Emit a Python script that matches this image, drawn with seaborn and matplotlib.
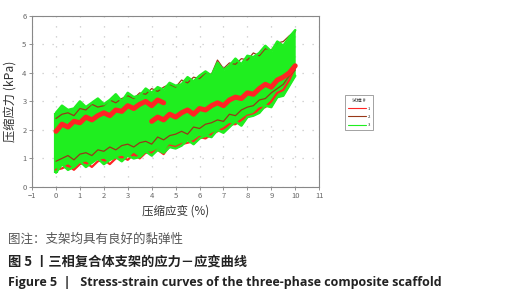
import numpy as np
import pandas as pd
import matplotlib
matplotlib.use("Agg")
import matplotlib.pyplot as plt
import seaborn as sns
from matplotlib.lines import Line2D

# -----------------------------
# Data
# -----------------------------
strain = np.arange(0, 10.001, 0.25)        # full 0-10 % range
strain_a = np.arange(0, 4.501, 0.25)       # part of red unloading that is visible
strain_b = np.arange(4.0, 10.001, 0.25)    # part of red loading that is visible

# sample 3 (green) - outer edges of the band
green_upper = [2.6, 2.85, 2.7, 2.75, 3.0, 2.8, 2.95, 3.1, 2.9, 3.05, 3.25, 3.0, 3.3, 3.15,
               3.2, 3.45, 3.3, 3.5, 3.4, 3.65, 3.55, 3.6, 3.85, 3.7, 3.9, 4.05, 3.9, 4.35,
               4.1, 4.25, 4.5, 4.3, 4.6, 4.55, 4.7, 4.95, 4.75, 5.1, 4.95, 5.25, 5.5]
green_lower = [0.5, 0.8, 0.6, 0.7, 0.9, 0.7, 0.85, 1.0, 0.8, 0.95, 1.05, 0.9, 1.1, 1.0,
               1.05, 1.25, 1.1, 1.3, 1.2, 1.4, 1.35, 1.45, 1.65, 1.5, 1.7, 1.8, 1.75, 2.0,
               1.9, 2.1, 2.3, 2.15, 2.45, 2.5, 2.6, 2.85, 2.8, 3.15, 3.2, 3.55, 3.9]

# sample 1 (red)
red_unload = [1.95, 2.2, 2.1, 2.3, 2.25, 2.45, 2.35, 2.5, 2.6, 2.5, 2.7, 2.65, 2.85, 2.75,
              2.9, 3.0, 2.85, 3.05, 2.95]
red_load = [2.3, 2.45, 2.35, 2.55, 2.45, 2.6, 2.7, 2.55, 2.75, 2.7, 2.85, 2.95, 2.85,
            3.05, 3.15, 3.1, 3.3, 3.25, 3.45, 3.6, 3.5, 3.75, 3.85, 4.0, 4.25]
red_low = [0.6, 0.65, 0.75, 0.6, 0.8, 0.85, 0.7, 0.9, 0.95, 0.8, 1.0, 1.05, 0.95, 1.15,
           1.0, 1.2, 1.2, 1.3, 1.15, 1.45, 1.4, 1.5, 1.55, 1.6, 1.75, 1.7, 1.85, 1.95,
           2.05, 2.2, 2.2, 2.35, 2.5, 2.55, 2.75, 2.8, 3.0, 3.3, 3.4, 3.75, 4.2]

# sample 2 (dark red)
brown_up = [2.4, 2.55, 2.6, 2.5, 2.75, 2.7, 2.9, 2.8, 2.85, 3.05, 2.95, 3.1, 3.2, 3.1,
            3.3, 3.25, 3.45, 3.35, 3.5, 3.6, 3.5, 3.75, 3.65, 3.85, 3.8, 4.0, 3.95, 4.45,
            4.15, 4.35, 4.3, 4.5, 4.45, 4.7, 4.6, 4.85, 4.8, 5.05, 5.1, 5.3, 5.45]
brown_low = [0.9, 1.0, 1.1, 0.95, 1.15, 1.2, 1.1, 1.3, 1.25, 1.4, 1.3, 1.45, 1.5, 1.4,
             1.55, 1.6, 1.5, 1.75, 1.65, 1.8, 1.85, 1.95, 1.85, 2.1, 2.05, 2.2, 2.25,
             2.35, 2.3, 2.55, 2.5, 2.7, 2.8, 2.85, 3.05, 3.1, 3.3, 3.45, 3.6, 3.9, 4.1]

sample_labels = ["1", "2", "3"]
sample_colors = ["#ff2424", "#983818", "#1fee1f"]


def curve_df(x, ys):
    return pd.DataFrame({"strain": x, "stress": ys})


# -----------------------------
# Plot
# -----------------------------
sns.set_style("white")
plt.rcParams['font.family'] = ['Noto Sans CJK SC', 'DejaVu Sans']

fig = plt.figure(figsize=(5.09, 3.0), dpi=100)
ax = fig.add_axes([0.063, 0.377, 0.564, 0.570])

# green band (sample 3): area swept by its cycles
ax.fill_between(strain, green_lower, green_upper, color=sample_colors[2], lw=0, zorder=1)
ax.vlines(0, green_lower[0], green_upper[0], color=sample_colors[2], lw=3, zorder=1)

kw = dict(x="strain", y="stress", ax=ax, estimator=None, sort=False)
sns.lineplot(data=curve_df(strain, red_low), color=sample_colors[0], lw=1.6, zorder=2, **kw)
sns.lineplot(data=curve_df(strain, brown_low), color=sample_colors[1], lw=0.9, zorder=3, **kw)
sns.lineplot(data=curve_df(strain, brown_up), color=sample_colors[1], lw=0.9, zorder=3, **kw)
sns.lineplot(data=curve_df(strain_a, red_unload), color=sample_colors[0], lw=3.6, zorder=4, **kw)
sns.lineplot(data=curve_df(strain_b, red_load), color=sample_colors[0], lw=3.6, zorder=4, **kw)
sns.lineplot(data=curve_df(strain, green_upper), color=sample_colors[2], lw=1.8, zorder=5, **kw)
sns.lineplot(data=curve_df(strain, green_lower), color=sample_colors[2], lw=1.8, zorder=5, **kw)

ax.set_xlim(-1, 11)
ax.set_ylim(0, 6)
ax.set_xticks(range(-1, 12))
ax.set_yticks(range(0, 7))
ax.grid(True, color="#c8c8c8", linestyle=(0, (1, 7)), linewidth=0.9)
for s in ax.spines.values():
    s.set_color("#888888")
    s.set_linewidth(0.8)
ax.tick_params(labelsize=5.5, colors="#666666", length=2, width=0.5,
               bottom=True, left=True, pad=2)
ax.set_xlabel("压缩应变 (%)", fontsize=8.3, color="#333333", labelpad=3)
ax.set_ylabel("压缩应力 (kPa)", fontsize=8.8, color="#333333", labelpad=3)

# legend
handles = [Line2D([0], [0], color=c, lw=0.8) for c in sample_colors]
leg = fig.legend(handles, sample_labels, title="试样 #", loc="upper left",
                 bbox_to_anchor=(0.674, 0.69), fontsize=3, title_fontsize=3.5,
                 handlelength=4.5, frameon=True, fancybox=False, borderpad=0.6,
                 labelspacing=1.0, handletextpad=0.4)
leg.get_frame().set_edgecolor("#777777")
leg.get_frame().set_linewidth(0.6)

# captions
fig.text(0.016, 0.203, "图注：支架均具有良好的黏弹性", fontsize=9, color="#555555", va="center")
fig.text(0.016, 0.128, "图 5 丨三相复合体支架的应力－应变曲线", fontsize=9.5,
         color="#222222", weight="bold", va="center")
fig.text(0.016, 0.058, "Figure 5  |   Stress-strain curves of the three-phase composite scaffold",
         fontsize=9, color="#222222", weight="bold", va="center", family="Open Sans")

fig.savefig("out.png", dpi=100)
